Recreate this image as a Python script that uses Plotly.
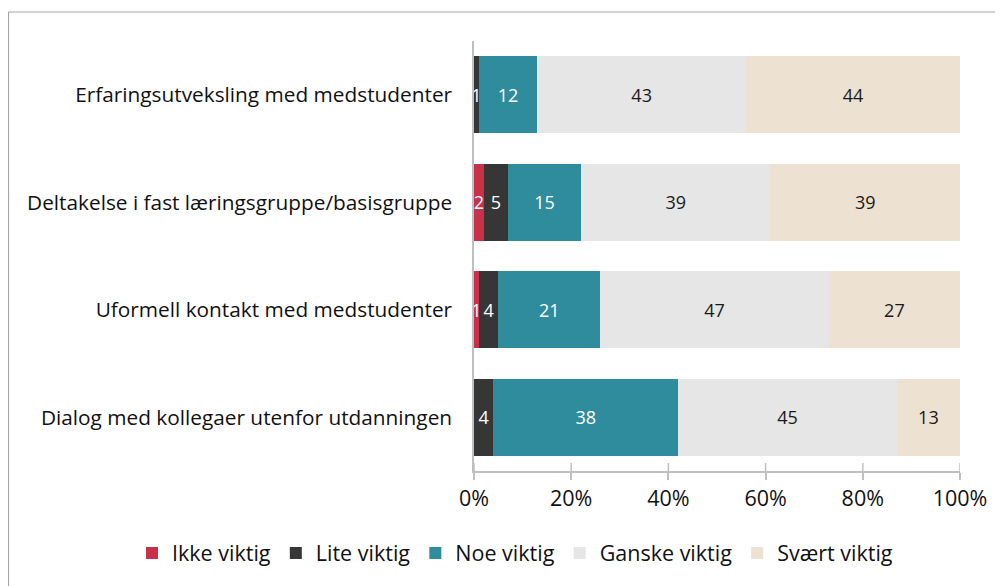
import plotly.graph_objects as go

categories = [
    "Erfaringsutveksling med medstudenter",
    "Deltakelse i fast læringsgruppe/basisgruppe",
    "Uformell kontakt med medstudenter",
    "Dialog med kollegaer utenfor utdanningen",
]
series_names = ["Ikke viktig", "Lite viktig", "Noe viktig", "Ganske viktig", "Svært viktig"]
ikke_viktig = [0, 2, 1, 0]
lite_viktig = [1, 5, 4, 4]
noe_viktig = [12, 15, 21, 38]
ganske_viktig = [43, 39, 47, 45]
svaert_viktig = [44, 39, 27, 13]
colors = ["#C9304A", "#363636", "#2E8C9D", "#E6E6E6", "#EDE1D1"]
text_colors = ["white", "white", "white", "#1a1a1a", "#1a1a1a"]
tick_vals = [0, 20, 40, 60, 80, 100]
tick_text = ["0%", "20%", "40%", "60%", "80%", "100%"]

FONT = "'Open Sans', 'Noto Sans', sans-serif"

# figure is placed at an 8px body offset in the page
W, H = 995, 578
ML, MT = 466, 33
PW, PH = 486, 430
MR = W - ML - PW
MB = H - MT - PH

fig = go.Figure()
for name, vals, c, tc in zip(series_names,
                             [ikke_viktig, lite_viktig, noe_viktig, ganske_viktig, svaert_viktig],
                             colors, text_colors):
    fig.add_trace(go.Bar(
        y=categories, x=vals, name=name, orientation="h",
        marker=dict(color=c, line=dict(width=0)),
        text=[str(v) if v > 0 else "" for v in vals],
        textposition="inside", insidetextanchor="middle",
        constraintext="none",
        textfont=dict(color=tc, size=18, family=FONT),
        hoverinfo="x+name",
    ))

# tick marks that also reach above the axis line
tick_shapes = [dict(type="line", xref="x", yref="paper", x0=v, x1=v,
                    y0=0, y1=8 / PH, line=dict(color="#BFBFBF", width=1.5))
               for v in tick_vals]

frame = [
    dict(type="line", xref="paper", yref="paper",
         x0=(0.5 - ML) / PW, x1=(W - ML) / PW,
         y0=1 + (MT - 4) / PH, y1=1 + (MT - 4) / PH,
         line=dict(color="#A6A6A6", width=1.2)),
    dict(type="line", xref="paper", yref="paper",
         x0=(0.5 - ML) / PW, x1=(0.5 - ML) / PW,
         y0=-MB / PH, y1=1 + (MT - 4) / PH,
         line=dict(color="#A6A6A6", width=1.2)),
]

fig.update_layout(
    barmode="stack",
    bargap=0.285,
    width=W, height=H,
    margin=dict(l=ML, r=MR, t=MT, b=MB, autoexpand=False),
    paper_bgcolor="white", plot_bgcolor="white",
    font=dict(family=FONT, size=20, color="#111"),
    showlegend=True,
    legend=dict(orientation="h", xref="paper", yref="paper",
                x=(124 - ML) / PW, xanchor="left",
                y=-(545 - (MT + PH)) / PH, yanchor="middle",
                font=dict(size=21.5, family=FONT), traceorder="normal"),
    xaxis=dict(range=[0, 100], tickvals=tick_vals, ticktext=tick_text,
               showgrid=False, zeroline=False, showline=True, linecolor="#BFBFBF",
               linewidth=1.5, ticks="outside", tickcolor="#BFBFBF", ticklen=7,
               tickwidth=1.5,
               tickfont=dict(size=21.5, family=FONT, color="#111"), fixedrange=True),
    yaxis=dict(categoryorder="array", categoryarray=categories[::-1],
               showgrid=False, showline=True, linecolor="#BFBFBF", linewidth=1.5,
               ticks="", ticklabelstandoff=16,
               tickfont=dict(size=20.8, family=FONT, color="#111")),
    shapes=tick_shapes + frame,
)

fig.write_html("out.html")
